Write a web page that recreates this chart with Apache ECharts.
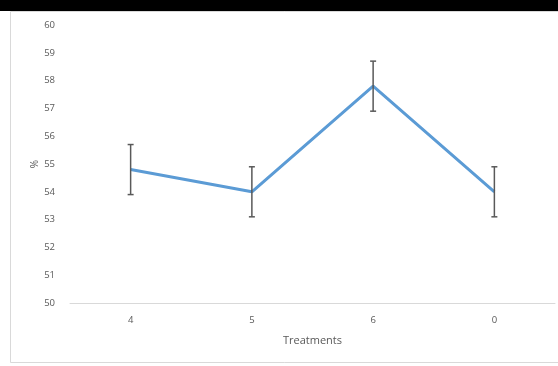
<!DOCTYPE html>
<html>
<head>
<meta charset="utf-8">
<script src="https://cdn.jsdelivr.net/npm/echarts@6/dist/echarts.min.js"></script>
<style>html,body{margin:0;padding:0;background:#fff;}#c{width:558px;height:366px;}</style>
</head>
<body>
<div id="c"></div>
<script>
var categories = ['4', '5', '6', '0'];
var values = [54.8, 54.0, 57.8, 54.0];
var errors = [0.9, 0.9, 0.9, 0.9];
var yTicks = [50, 51, 52, 53, 54, 55, 56, 57, 58, 59, 60];

var errData = categories.map(function (c, i) {
  return [i, values[i] - errors[i], values[i] + errors[i]];
});

var chart = echarts.init(document.getElementById('c'), null, {renderer: 'canvas'});
var font = '"Open Sans", "Noto Sans", sans-serif';
chart.setOption({
  animation: false,
  backgroundColor: '#fff',
  graphic: [
    {type: 'rect', shape: {x: 0, y: 0, width: 558, height: 11}, style: {fill: '#000'}, z: 100},
    {type: 'rect', shape: {x: 10.5, y: 11.5, width: 560, height: 351}, style: {fill: 'none', stroke: '#d9d9d9', lineWidth: 1}, z: 100}
  ],
  grid: {left: 70, right: 3, top: 25, bottom: 63, containLabel: false},
  xAxis: {
    type: 'category',
    data: categories,
    boundaryGap: true,
    name: 'Treatments',
    nameLocation: 'middle',
    nameGap: 32,
    nameTextStyle: {color: '#595959', fontSize: 11, fontFamily: font},
    axisLine: {lineStyle: {color: '#d9d9d9', width: 1}},
    axisTick: {show: false},
    axisLabel: {color: '#595959', fontSize: 9.5, fontFamily: font, margin: 12}
  },
  yAxis: {
    type: 'value',
    min: yTicks[0],
    max: yTicks[yTicks.length - 1],
    interval: 1,
    name: '%',
    nameLocation: 'middle',
    nameGap: 30,
    nameMoveOverlap: false,
    nameRotate: 90,
    nameTextStyle: {color: '#595959', fontSize: 10, fontFamily: font},
    axisLine: {show: false},
    axisTick: {show: false},
    splitLine: {show: false},
    axisLabel: {color: '#595959', fontSize: 9.5, fontFamily: font, margin: 15}
  },
  series: [
    {
      type: 'line',
      data: values,
      symbol: 'none',
      lineStyle: {color: '#5b9bd5', width: 3},
      z: 2
    },
    {
      type: 'custom',
      data: errData,
      z: 3,
      renderItem: function (params, api) {
        var x = api.value(0);
        var lo = api.coord([x, api.value(1)]);
        var hi = api.coord([x, api.value(2)]);
        var hw = 3;
        var st = {stroke: '#595959', lineWidth: 1.5};
        return {
          type: 'group',
          children: [
            {type: 'line', shape: {x1: hi[0], y1: hi[1], x2: lo[0], y2: lo[1]}, style: st},
            {type: 'line', shape: {x1: hi[0] - hw, y1: hi[1], x2: hi[0] + hw, y2: hi[1]}, style: st},
            {type: 'line', shape: {x1: lo[0] - hw, y1: lo[1], x2: lo[0] + hw, y2: lo[1]}, style: st}
          ]
        };
      }
    }
  ]
});
</script>
</body>
</html>
